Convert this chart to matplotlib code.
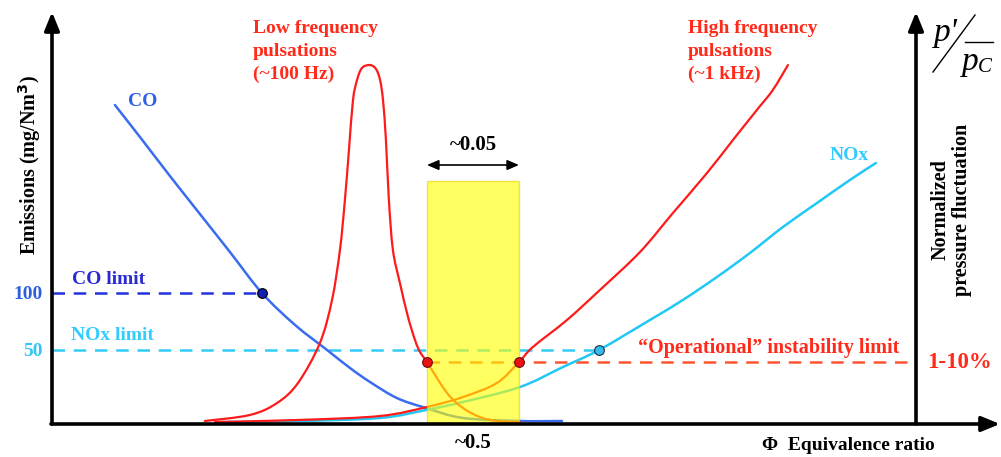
import numpy as np
from matplotlib import pyplot as plt
from matplotlib.lines import Line2D
from matplotlib.path import Path
import matplotlib.patches as patches

plt.rcParams['font.family'] = ['Liberation Serif', 'DejaVu Serif']
plt.rcParams['font.weight'] = 'bold'

# equivalence ratio (phi) and emissions (mg/Nm3, schematic scale)
co_phi = [0.3054, 0.3190, 0.3353, 0.3516, 0.3679, 0.3853, 0.4033, 0.4207, 0.4332,
          0.4440, 0.4587, 0.4745, 0.4946, 0.5255, 0.5484]
co_val = [243.5, 219.1, 189.3, 160.3, 131.3, 100.0, 75.6, 56.5, 42.7,
          32.1, 19.8, 12.2, 4.6, 2.3, 2.3]

nox_phi = [0.3609, 0.4060, 0.4495, 0.4745, 0.4946, 0.5255, 0.5489, 0.5685, 0.5962,
           0.6141, 0.6326, 0.6505, 0.6685, 0.6870, 0.7049, 0.7190]
nox_val = [1.5, 2.3, 4.6, 10.7, 16.8, 28.2, 43.5, 56.5, 79.4,
           94.7, 112.2, 130.5, 150.4, 168.7, 186.3, 199.2]

# normalized pressure fluctuation, same schematic scale
lf_phi = [0.3543, 0.3788, 0.3935, 0.4049, 0.4168, 0.4234, 0.4277, 0.4304, 0.4326,
          0.4348, 0.4370, 0.4397, 0.4440, 0.4473, 0.4495, 0.4511, 0.4527, 0.4543,
          0.4565, 0.4603, 0.4647, 0.4685, 0.4712, 0.4750, 0.4859, 0.4946, 0.5038,
          0.5130, 0.5255]
lf_val = [2.3, 6.9, 16.0, 31.3, 61.8, 94.7, 132.8, 171.0, 209.2,
          247.3, 262.6, 271.8, 274.0, 271.0, 262.6, 247.3, 216.8, 171.0,
          132.8, 107.6, 81.7, 64.1, 55.0, 47.3, 23.7, 12.2, 5.3,
          2.3, 1.5]

hf_phi = [0.3598, 0.4060, 0.4495, 0.4750, 0.4946, 0.5130, 0.5250, 0.5326, 0.5511,
          0.5690, 0.5908, 0.6087, 0.6272, 0.6413, 0.6543, 0.6630, 0.6712]
hf_val = [1.5, 3.1, 6.1, 13.0, 20.6, 31.3, 47.3, 58.8, 79.4,
          102.3, 131.3, 161.1, 191.6, 216.8, 239.7, 255.0, 274.0]

co_limit, co_limit_phi = 100.0, 0.3853
nox_limit, nox_limit_phi = 56.5, 0.5685
op_limit = 47.3
window = [0.475, 0.525]
window_top = 185.5
limit_labels = ['100', '50']

W, H = 1001, 457
def fx(x): return x / W
def fy(y): return 1 - y / H


def smooth_curve(ax, xs, ys, **kw):
    # smooth Bezier path through the read points (Catmull-Rom handles)
    p = np.column_stack([xs, ys])
    ext = np.vstack([p[0], p, p[-1]])
    verts, codes = [p[0]], [Path.MOVETO]
    for i in range(1, len(ext) - 2):
        p0, p1, p2, p3 = ext[i - 1], ext[i], ext[i + 1], ext[i + 2]
        verts += [p1 + (p2 - p0) / 6, p2 - (p3 - p1) / 6, p2]
        codes += [Path.CURVE4] * 3
    ax.add_patch(patches.PathPatch(Path(verts, codes), fill=False, capstyle='round', **kw))


fig = plt.figure(figsize=(W / 100, H / 100), dpi=100)
ax = fig.add_axes([fx(52), fy(424), fx(916) - fx(52), fy(12) - fy(424)])
ax.set_xlim(0.2712, 0.7408)
ax.set_ylim(0, 314.5)
for s in ax.spines.values():
    s.set_visible(False)
ax.set_xticks([])
ax.set_yticks([co_limit, nox_limit])
ax.set_yticklabels(limit_labels, fontsize=14, fontweight='bold')
ax.tick_params(axis='y', length=0, pad=7)
for lab, c in zip(ax.get_yticklabels(), ['#2b5fe0', '#33c6f5']):
    lab.set_color(c)

blue, cyan, red = '#3a6cf0', '#22c8f5', '#ff1a1a'
smooth_curve(ax, co_phi, co_val, edgecolor=blue, lw=1.8, zorder=3)
smooth_curve(ax, nox_phi, nox_val, edgecolor=cyan, lw=1.8, zorder=3)
smooth_curve(ax, lf_phi, lf_val, edgecolor=red, lw=1.6, zorder=3)
smooth_curve(ax, hf_phi, hf_val, edgecolor=red, lw=1.6, zorder=3)

dash = dict(lw=1.8, dashes=(5, 3.5), zorder=2)
ax.plot([ax.get_xlim()[0], co_limit_phi], [co_limit, co_limit], color='#2233dd', **dash)
ax.plot([ax.get_xlim()[0], nox_limit_phi], [nox_limit, nox_limit], color='#33ccf8', **dash)
ax.plot([window[0], ax.get_xlim()[1]], [op_limit, op_limit], color='#ff5533', **dash)

box = patches.Rectangle((window[0], 0), window[1] - window[0], window_top,
                        facecolor='#ffff00', edgecolor='#e8d400', lw=1, alpha=0.62, zorder=4)
ax.add_patch(box)

ax.plot([co_limit_phi], [co_limit], 'o', ms=7, mfc='#1020b0', mec='k', mew=0.8, zorder=6)
ax.plot([nox_limit_phi], [nox_limit], 'o', ms=7, mfc='#33bbee', mec='#203040', mew=0.8, zorder=6)
ax.plot(window, [op_limit, op_limit], 'o', ms=7, mfc='#ee1111', mec='#601010', mew=0.8, zorder=6)

ax.annotate('', xy=(window[0], 197.7), xytext=(window[1], 197.7),
            arrowprops=dict(arrowstyle='<|-|>,head_width=0.3,head_length=0.7', lw=1.2,
                            color='k', shrinkA=0, shrinkB=0), annotation_clip=False)
ax.text(sum(window) / 2, 205, '~0.05', ha='center', va='bottom', fontsize=15, fontweight='bold')

# axes with arrowheads
arr = dict(arrowstyle='-|>,head_width=0.45,head_length=1.1', lw=2.6, color='k',
           shrinkA=0, shrinkB=0)
for a, b in [((52, 424), (52, 12)), ((916, 424), (916, 12)), ((51, 424), (1000, 424))]:
    fig.add_artist(patches.FancyArrowPatch((fx(a[0]), fy(a[1])), (fx(b[0]), fy(b[1])),
                                           transform=fig.transFigure,
                                           mutation_scale=10, **arr))

red_t = '#ff2a1a'
fig.text(fx(253), fy(20), 'Low frequency\npulsations\n(~100 Hz)', color=red_t, fontsize=14,
         fontweight='bold', va='top', ha='left', linespacing=1.45)
fig.text(fx(688), fy(20), 'High frequency\npulsations\n(~1 kHz)', color=red_t, fontsize=14,
         fontweight='bold', va='top', ha='left', linespacing=1.45)
fig.text(fx(128), fy(102), 'CO', color='#2f5fe8', fontsize=14, fontweight='bold', va='center')
fig.text(fx(72), fy(280), 'CO limit', color='#2a2ad0', fontsize=14, fontweight='bold', va='center')
fig.text(fx(71), fy(336), 'NOx limit', color='#33ccff', fontsize=14, fontweight='bold', va='center')
fig.text(fx(830), fy(155), 'NOx', color='#33ccff', fontsize=14, fontweight='bold', va='center')
fig.text(fx(638), fy(348), '\u201cOperational\u201d instability limit', color=red_t, fontsize=14.5,
         fontweight='bold', va='center')
fig.text(fx(927), fy(363), '1-10%', color=red_t, fontsize=16.5, fontweight='bold', va='center')
fig.text(fx(473), fy(443), '~0.5', fontsize=15, fontweight='bold', ha='center', va='center')
fig.text(fx(762), fy(445), '\u03a6  Equivalence ratio', fontsize=14, fontweight='bold', va='center')
fig.text(fx(30), fy(165), 'Emissions (mg/Nm$^3$)', fontsize=14.5, fontweight='bold',
         rotation=90, ha='center', va='center')
fig.text(fx(951), fy(210), 'Normalized\npressure fluctuation', fontsize=14.5, fontweight='bold',
         rotation=90, ha='center', va='center', linespacing=1.1)

# p'/p_C symbol
sym = dict(fontstyle='italic', fontweight='normal', color='k')
fig.text(fx(934), fy(33), "p'", fontsize=24, ha='left', va='center', **sym)
fig.text(fx(962), fy(62), "p", fontsize=24, ha='left', va='center', **sym)
fig.text(fx(978), fy(67), "C", fontsize=15, ha='left', va='center', **sym)
fig.add_artist(Line2D([fx(933), fx(975)], [fy(72), fy(15)], color='k', lw=1,
                      transform=fig.transFigure))
fig.add_artist(Line2D([fx(965), fx(993)], [fy(42), fy(42)], color='k', lw=1,
                      transform=fig.transFigure))

fig.savefig('out.png', dpi=100)
